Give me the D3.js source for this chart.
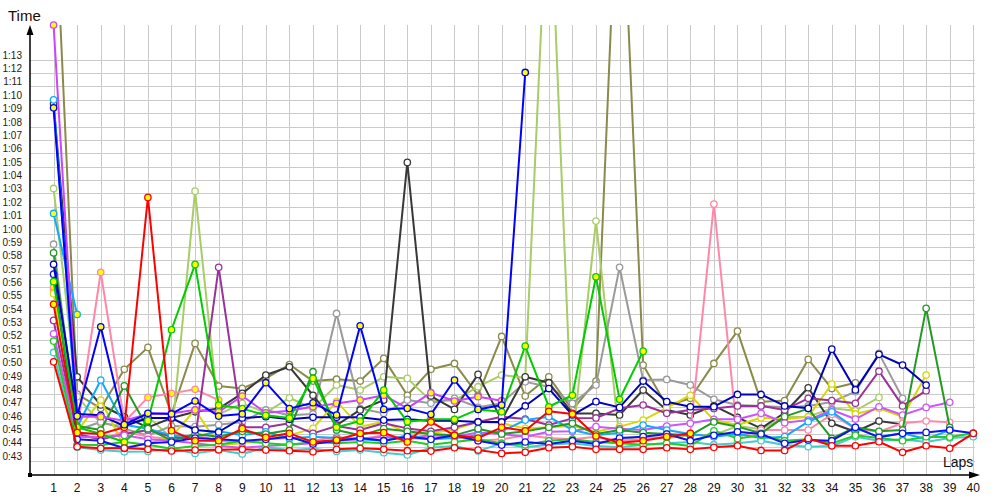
<!DOCTYPE html>
<html><head><meta charset="utf-8">
<script src="https://cdn.jsdelivr.net/npm/d3@7"></script>
<style>body{margin:0;background:#fff}svg{display:block}</style>
</head><body>
<svg id="c" width="1000" height="500"></svg>
<script>
// ---- DATA (lap times in seconds, lap 1..n) ----
const laps = d3.range(1, 41);
const yTickSeconds = d3.range(43, 74);

const olive   = [87, 47.99, 46.92, 49.84, 51.48, 46.5, 51.78, 48.59, 48.41, 49.16, 50.2, 48.96, 49.1, 48.96, 50.66, 47.9, 49.84, 50.28, 47.9, 52.3, 47.84, 49.28, 46.8, 48.96, 91, 50.16, 47.1, 47.67, 50.28, 52.7, 47.4, 47.5, 50.58, 48.4, 48.83];
const lightGreen = [63.37, 47.8, 45.8, 45.6, 46.3, 44.7, 63.17, 46.47, 47.29, 46.6, 47.71, 46.9, 48.66, 48.29, 49.28, 49.16, 47.47, 47.5, 48.54, 49.41, 49.2, 88, 44.3, 60.93, 44.6, 44.8, 44.7, 44.9, 44.92, 45.6, 45.35, 46.25, 46.3, 46.92, 46.74, 47.74];
const gray    = [59.2, 45.3, 45.9, 45.4, 44.9, 45.6, 45.55, 45.7, 45.9, 46.8, 46.4, 46.5, 54.02, 46.9, 46.55, 47.54, 47.3, 47.67, 47.0, 47.3, 48.9, 48.54, 47.29, 48.66, 57.47, 49.04, 49.08, 48.66, 47.6, 47.17, 47.1, 47.0, 47.1, 47.4, 48.16, 51.03, 47.67];
const darkGray = [69.7, 49.28, 47.17, 46.29, 45.5, 46.2, 46.66, 46.9, 48.04, 49.41, 50.03, 47.9, 45.67, 46.8, 47.54, 65.32, 47.84, 46.84, 49.46, 46.04, 49.28, 48.84, 46.54, 46.54, 46.42, 48.29, 46.8, 46.42, 47.1, 46.25, 45.42, 46.59, 48.46, 45.8, 45.17, 45.97, 45.72];
const pink    = [55.8, 44.9, 44.6, 45.2, 44.8, 44.6, 44.9, 44.5, 44.4, 44.6, 44.7, 44.5, 44.8, 44.6, 44.9, 44.7, 44.6, 44.8, 44.5, 44.6, 44.9, 44.7, 44.6, 44.8, 44.5, 44.6, 44.8, 45.05, 62.2, 44.8, 45.3, 45.3, 45.3, 46.47, 45.4, 45.17, 45.8, 45.97, 45.87];
const pinkB   = [56.0, 45.3, 57.1, 45.9, 47.74, 48.04, 48.34, 47.54];
const yellow  = [55.5, 45.2, 47.54, 44.0, 44.3, 44.8, 46.8, 44.17, 44.3, 44.6, 44.9, 45.42, 47.42, 45.55, 45.92, 45.05, 45.05, 45.35, 45.92, 45.8, 45.42, 45.5, 45.6, 45.17, 45.55, 46.04, 46.96, 47.9, 46.04, 45.67, 46.22, 46.1, 46.29, 48.74, 46.5, 46.92, 46.29, 49.41];
const purple  = [53.5, 45.0, 44.6, 45.0, 45.3, 44.8, 44.6, 57.47, 45.5, 45.5, 45.8, 45.05, 45.6, 45.3, 45.8, 45.42, 45.2, 45.5, 45.9, 46.29, 46.12, 45.67, 46.17, 46.2, 46.92, 47.17, 46.55, 46.8, 46.9, 47.1, 47.1, 46.8, 47.67, 47.5, 47.3, 49.7, 47.1, 48.24];
const violetB = [52.5, 44.8, 44.75, 44.9, 44.6, 44.5, 44.3, 44.1, 43.97, 44.1, 44.2, 44.3, 44.5, 44.6, 44.8, 44.7, 44.9, 44.8, 45.12, 45.0, 44.8, 45.17, 45.2, 45.55, 45.4, 45.3, 45.6, 45.8, 46.1, 46.1, 46.55, 45.84, 46.04, 46.8, 46.12, 47.04, 46.42, 46.99, 47.37];
const cyan    = [70.0, 45.5, 49.04, 45.7, 45.4, 44.9, 44.8, 45.2, 44.9, 45.17, 44.67, 44.8, 44.7, 44.6, 44.5, 44.9, 44.6, 44.7, 44.9, 45.2, 46.04, 46.29, 45.3, 44.9, 45.1, 45.67, 45.3, 45.0, 44.8, 45.0, 44.7, 44.8, 45.92, 46.66, 45.42, 44.8, 45.05, 44.62, 45.3];
const cyanB   = [61.5, 53.95];
const turquoise = [51.1, 44.0, 43.8, 43.67, 43.7, 43.9, 43.55, 43.8, 43.5, 44.0, 43.8, 43.9, 43.7, 43.8, 43.6, 43.43, 43.97, 44.1, 43.72, 44.3, 44.0, 44.2, 44.3, 44.1, 44.0, 44.2, 44.3, 44.4, 44.2, 44.3, 44.5, 44.17, 44.05, 44.1, 44.8, 44.5, 44.6, 44.4, 44.7, 44.8];
const greenC  = [51.95, 44.2, 44.17, 44.4, 44.2, 43.9, 44.1, 44.2, 44.5, 44.3, 44.2, 44.4, 44.3, 44.4, 44.3, 44.5, 44.2, 44.4, 44.6, 44.3, 44.2, 44.5, 44.6, 44.4, 44.3, 44.2, 44.3, 44.1, 45.24, 44.67, 44.9, 44.5, 44.6, 44.3, 44.9, 44.7, 44.5, 44.8, 44.77, 45.05];
const darkGreen = [58.55, 45.6, 45.3, 48.6, 45.4, 44.5, 45.0, 44.8, 45.2, 45.0, 45.3, 49.66, 45.3, 44.9, 45.4, 45.2, 45.0, 44.9, 45.4, 45.0, 45.2, 45.5, 45.8, 45.0, 45.3, 45.1, 45.0, 44.9, 45.9, 45.55, 45.05, 46.3, 46.9, 44.67, 45.5, 45.2, 45.3, 54.4, 45.5];
const blueC   = [56.96, 44.6, 44.5, 43.93, 44.3, 44.4, 44.7, 44.6, 44.5, 44.6, 44.8, 44.25, 44.5, 44.7, 44.5, 44.8, 44.6, 44.9, 44.5, 44.17, 44.4, 44.25, 44.5, 44.25, 44.7, 44.8, 45.0, 44.5, 44.9, 45.17, 45.0, 44.3, 44.55, 44.5, 45.5, 44.75, 45.05, 45.12, 45.3, 45.05];
const darkBlue = [57.7, 46.5, 46.4, 45.6, 46.2, 46.2, 45.3, 45.15, 46.2, 46.3, 46.1, 46.25, 46.25, 46.25, 46.04, 46.1, 46.0, 46.0, 45.9, 45.9, 47.1, 48.4, 46.42, 47.42, 46.99, 48.96, 47.42, 47.04, 47.04, 47.96, 47.96, 47.1, 46.92, 51.35, 48.3, 50.96, 50.16, 48.66];
const violet  = [75.6, 46.29, 46.29, 45.99, 46.5, 46.55, 46.8, 46.66, 47.84, 46.59, 46.74, 47.04, 47.29, 47.54, 47.9, 46.92, 48.09, 47.47, 47.79, 47.49];
const green   = [56.4, 45.5, 45.0, 44.4, 46.0, 52.8, 57.69, 47.17, 46.9, 46.4, 46.2, 49.16, 45.5, 45.97, 48.29, 45.92, 46.1, 46.1, 46.84, 46.66, 51.58, 47.04, 47.9, 56.76, 47.6, 51.2];
const redB    = [54.7, 45.1, 45.0, 45.5, 62.7, 45.25, 44.5, 44.5, 45.4, 44.75, 45.05, 44.4, 44.55, 45.05, 45.1, 44.4, 45.9, 44.9, 44.7, 45.5, 45.24, 46.7, 46.5, 44.85, 44.35, 44.5, 44.8, 45.05];
const blue    = [69.4, 46.34, 53.02, 45.7, 46.55, 46.5, 47.47, 46.34, 46.5, 48.84, 46.9, 47.34, 46.42, 53.1, 46.84, 46.92, 46.47, 49.04, 46.84, 47.17, 72.05];
const red     = [50.4, 44.05, 43.93, 43.95, 43.85, 43.73, 43.8, 43.83, 43.86, 43.8, 43.75, 43.67, 43.85, 43.93, 43.85, 43.75, 43.72, 43.97, 43.8, 43.55, 43.63, 43.97, 44.05, 43.85, 43.85, 43.85, 43.97, 43.85, 44.0, 44.12, 43.77, 43.77, 44.67, 44.12, 44.12, 44.42, 43.63, 44.12, 43.93, 45.05];

// ---- STYLES (drawing order) ----
const series = [
  {v: olive, c: "#8a8a4a", f: "#fff"},
  {v: lightGreen, c: "#a8cc66", f: "#fff"},
  {v: gray, c: "#9a9a9a", f: "#fff"},
  {v: darkGray, c: "#383838", f: "#fff"},
  {v: pink, c: "#ff88aa", f: "#fff"},
  {v: pinkB, c: "#ff88aa", f: "#ffff00"},
  {v: yellow, c: "#d8d800", f: "#fff"},
  {v: purple, c: "#993399", f: "#fff"},
  {v: violetB, c: "#cc55ff", f: "#fff"},
  {v: cyan, c: "#11aaff", f: "#fff"},
  {v: cyanB, c: "#11aaff", f: "#ffff00"},
  {v: turquoise, c: "#44cccc", f: "#fff"},
  {v: greenC, c: "#22cc22", f: "#fff"},
  {v: darkGreen, c: "#229922", f: "#fff"},
  {v: blueC, c: "#1111ee", f: "#fff"},
  {v: darkBlue, c: "#0000bb", f: "#fff"},
  {v: violet, c: "#cc44ff", f: "#ffff00"},
  {v: green, c: "#00cc00", f: "#ffff00"},
  {v: redB, c: "#ff0000", f: "#ffff00"},
  {v: blue, c: "#0000ff", f: "#ffff00"},
  {v: red, c: "#ff0000", f: "#fff"}
];

const svg = d3.select("#c");
const x = d3.scaleLinear().domain([0, 40]).range([30, 973.3]);
const y = d3.scaleLinear().domain([42, 75.6]).range([474.1, 25]);
const fmt = s => Math.floor(s / 60) + ":" + String(s % 60).padStart(2, "0");

// grid
const g = svg.append("g");
g.selectAll("line.h").data(yTickSeconds).join("line")
  .attr("x1", 30).attr("x2", 975).attr("y1", d => Math.round(y(d)) + 0.5).attr("y2", d => Math.round(y(d)) + 0.5)
  .attr("stroke", "#cbcbcb").attr("stroke-width", 1);
g.selectAll("line.v").data(laps).join("line")
  .attr("x1", d => Math.round(x(d)) + 0.5).attr("x2", d => Math.round(x(d)) + 0.5)
  .attr("y1", 25).attr("y2", 475)
  .attr("stroke", "#cbcbcb").attr("stroke-width", 1);

// y tick labels
svg.append("g").selectAll("text").data(yTickSeconds).join("text")
  .attr("x", 22).attr("y", d => y(d) - 1).attr("text-anchor", "end")
  .attr("font-family", "Liberation Sans, Arial, sans-serif").attr("font-size", 10)
  .attr("fill", "#2a1a08").text(fmt);

// x tick labels
svg.append("g").selectAll("text").data(laps).join("text")
  .attr("x", d => x(d)).attr("y", 492).attr("text-anchor", "middle")
  .attr("font-family", "Liberation Sans, Arial, sans-serif").attr("font-size", 12)
  .attr("fill", "#111").text(d => d);

// clip
svg.append("clipPath").attr("id", "clip").append("rect")
  .attr("x", 30).attr("y", 25).attr("width", 960).attr("height", 452);

const line = d3.line().x((d, i) => x(i + 1)).y(d => y(d));
const plot = svg.append("g");
series.forEach(s => {
  plot.append("path").datum(s.v)
    .attr("clip-path", "url(#clip)")
    .attr("d", line).attr("fill", "none")
    .attr("stroke", s.c).attr("stroke-width", 2).attr("stroke-linejoin", "round");
  plot.append("g").selectAll("circle")
    .data(s.v.map((v, i) => ({v, i})).filter(d => d.v <= 75.6))
    .join("circle")
    .attr("cx", d => x(d.i + 1)).attr("cy", d => y(d.v)).attr("r", 3.2)
    .attr("fill", s.f).attr("stroke", s.c).attr("stroke-width", 1.3);
});

// axes
svg.append("line").attr("x1", 30).attr("x2", 30).attr("y1", 30).attr("y2", 475).attr("stroke", "#000").attr("stroke-width", 1.5);
svg.append("line").attr("x1", 30).attr("x2", 972).attr("y1", 475).attr("y2", 475).attr("stroke", "#000").attr("stroke-width", 1.5);
svg.append("path").attr("d", "M30,25 L26.5,35 L33.5,35 Z").attr("fill", "#000");
svg.append("path").attr("d", "M980,475 L969,471.5 L969,478.5 Z").attr("fill", "#000");
svg.append("rect").attr("x", 28).attr("y", 473).attr("width", 4).attr("height", 4).attr("fill", "#000");

svg.append("text").attr("x", 8).attr("y", 20.5)
  .attr("font-family", "Liberation Sans, Arial, sans-serif").attr("font-size", 15).attr("fill", "#1a0a00").text("Time");
svg.append("text").attr("x", 943).attr("y", 467)
  .attr("font-family", "Liberation Sans, Arial, sans-serif").attr("font-size", 14).attr("fill", "#111").text("Laps");
</script>
</body></html>
